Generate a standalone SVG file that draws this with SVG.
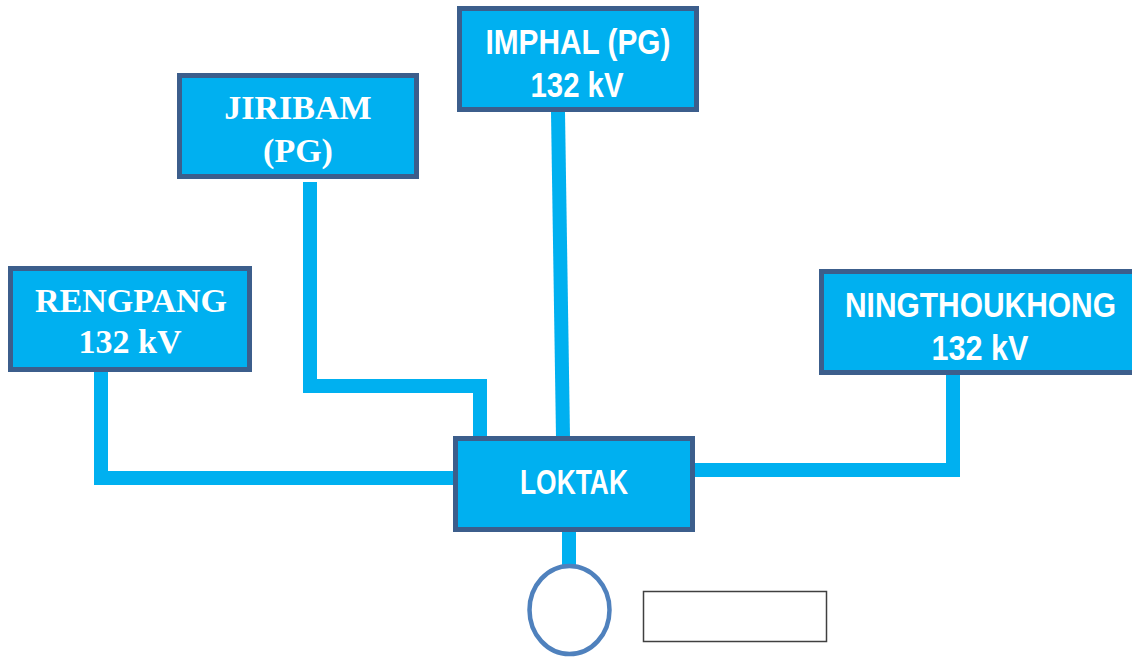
<svg xmlns="http://www.w3.org/2000/svg" width="1132" height="657" viewBox="0 0 1132 657">
<style>
.box{fill:#00B0F0;stroke:#3C5E8C;stroke-width:5}
.serif{font-family:"Liberation Serif","Times New Roman",serif;font-weight:bold;font-size:34px;fill:#fff;text-anchor:middle}
.sans{font-family:"Liberation Sans",Arial,sans-serif;font-weight:bold;font-size:35px;fill:#fff;text-anchor:middle}
.conn{fill:none;stroke:#00B0F0;stroke-width:14;stroke-linejoin:miter;stroke-linecap:butt}
</style>
<rect width="1132" height="657" fill="#fff"/>
<g id="connectors">
<path class="conn" d="M101 372 V478 H455"/>
<path class="conn" d="M310 182 V386 H480 V437"/>
<path class="conn" d="M558 112 L563 437"/>
<path class="conn" d="M693 470 H953 V374"/>
<path class="conn" d="M569 531 V568"/>
</g>
<g id="jiribam">
<rect class="box" x="179.5" y="75.5" width="237" height="101"/>
<text class="serif" x="298" y="119">JIRIBAM</text>
<text class="serif" x="298" y="162">(PG)</text>
</g>
<g id="imphal">
<rect class="box" x="459.5" y="8.5" width="237" height="101"/>
<text class="sans" x="578" y="54" textLength="185" lengthAdjust="spacingAndGlyphs">IMPHAL (PG)</text>
<text class="sans" x="577" y="97" textLength="93" lengthAdjust="spacingAndGlyphs">132 kV</text>
</g>
<g id="rengpang">
<rect class="box" x="10.5" y="268.5" width="239" height="101"/>
<text class="serif" x="131" y="312">RENGPANG</text>
<text class="serif" x="130" y="353">132 kV</text>
</g>
<g id="ningthoukhong">
<rect class="box" x="821.5" y="271.5" width="320" height="101"/>
<text class="sans" x="980.5" y="317" textLength="271" lengthAdjust="spacingAndGlyphs">NINGTHOUKHONG</text>
<text class="sans" x="980" y="360" textLength="97" lengthAdjust="spacingAndGlyphs">132 kV</text>
</g>
<g id="loktak">
<rect class="box" x="455.5" y="438.5" width="237" height="91"/>
<text class="sans" x="574" y="494" font-size="33" textLength="108" lengthAdjust="spacingAndGlyphs">LOKTAK</text>
</g>
<g id="generator">
<ellipse cx="569.5" cy="610" rx="40" ry="44" fill="#fff" stroke="#4F81BD" stroke-width="4.5"/>
</g>
<g id="legend">
<rect x="643.5" y="591.5" width="183" height="50" fill="#fff" stroke="#404040" stroke-width="1.5"/>
</g>
</svg>
